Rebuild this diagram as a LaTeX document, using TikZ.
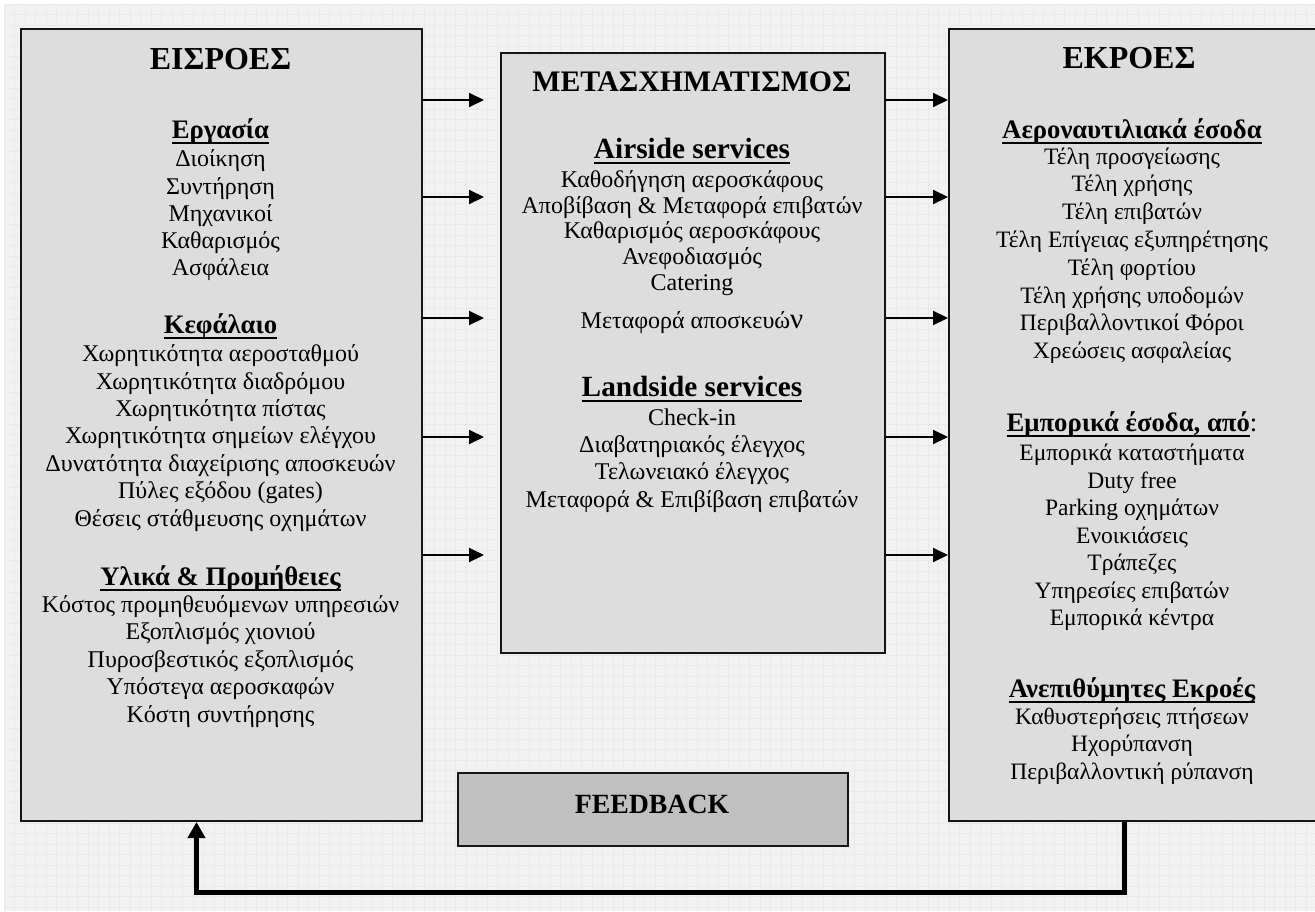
\documentclass[tikz,border=0pt]{standalone}
\usepackage{fontspec}
\setmainfont{Liberation Serif}
\usetikzlibrary{arrows.meta}

\definecolor{pagebg}{HTML}{F2F2F2}
\definecolor{gridln}{HTML}{E9E9E9}
\definecolor{boxfill}{HTML}{DDDDDD}
\definecolor{fbfill}{HTML}{C0C0C0}
\definecolor{edge}{HTML}{151515}

% text sizes (1pt = 1 picture unit)
\newcommand\titlefont{\fontsize{32}{36}\selectfont\bfseries}
\newcommand\midtitlefont{\fontsize{29.8}{33}\selectfont\bfseries}
\newcommand\headfont{\fontsize{26.7}{30}\selectfont\bfseries}
\newcommand\midheadfont{\fontsize{29.3}{33}\selectfont\bfseries}
\newcommand\bodyfont{\fontsize{24}{27}\selectfont}
\newcommand\outbodyfont{\fontsize{23.5}{27}\selectfont}
\newcommand\midbodyfont{\fontsize{24}{26}\selectfont}

% thick underline for the section headings
\newcommand\hul[1]{\setbox0=\hbox{#1}\leavevmode\rlap{\rule[-5.5pt]{\wd0}{2pt}}\box0}

% a centred column of lines: name, x, first baseline, step, font, lines
\newcommand\textcol[6]{%
  \foreach \txt [count=\k] in {#6} {%
    \node[lbl, font=#5] (#1\k) at (#2,{#3+(\k-1)*#4}) {\txt};}}

\tikzset{
  box/.style={draw=edge, line width=2pt, fill=boxfill, rectangle,
              anchor=north west, inner sep=0pt},
  lbl/.style={anchor=base, inner sep=0pt, align=center},
  conn/.style={draw=black, line width=2pt,
               -{Triangle[length=15pt,width=14pt]}},
  fbline/.style={draw=black, line width=5pt,
                 -{Triangle[length=16pt,width=17pt]}},
}

\begin{document}
\begin{tikzpicture}[x=1pt,y=-1pt]
\useasboundingbox (0,0) rectangle (1315,911);

% patterned page background
\fill[pagebg] (4,4) rectangle (1315,911);
\foreach \gx in {0,...,125} {\draw[gridln, line width=0.7pt] ({4+\gx*10.5},4) -- ({4+\gx*10.5},911);}
\foreach \gy in {0,...,86} {\draw[gridln, line width=0.7pt] (4,{4+\gy*10.5}) -- (1315,{4+\gy*10.5});}

% the three main blocks and the feedback block
\node[box, minimum width=401pt, minimum height=792pt] (in)  at (20,28)  {};
\node[box, minimum width=384pt, minimum height=600pt] (mid) at (500,52) {};
\node[box, minimum width=374pt, minimum height=792pt] (out) at (948,28) {};
\node[box, fill=fbfill, minimum width=390pt, minimum height=73pt] (fb) at (457,772) {};
\node[lbl, font=\fontsize{27.8}{30}\selectfont\bfseries] (fbtxt) at (652,813.3) {FEEDBACK};

% inputs
\node[lbl, font=\titlefont] (inT) at (220.5,69) {ΕΙΣΡΟΕΣ};
\node[lbl, font=\headfont] (inH1) at (220.5,138.5) {\hul{Εργασία}};
\textcol{inA}{220.5}{166.7}{27.3}{\bodyfont}{Διοίκηση,Συντήρηση,Μηχανικοί,Καθαρισμός,Ασφάλεια}
\node[lbl, font=\headfont] (inH2) at (220.5,333.8) {\hul{Κεφάλαιο}};
\textcol{inB}{220.5}{361.7}{27.4}{\bodyfont}{Χωρητικότητα αεροσταθμού,Χωρητικότητα διαδρόμου,Χωρητικότητα πίστας,Χωρητικότητα σημείων ελέγχου,Δυνατότητα διαχείρισης αποσκευών,Πύλες εξόδου (gates),Θέσεις στάθμευσης οχημάτων}
\node[lbl, font=\headfont] (inH3) at (220.5,585.5) {\hul{Υλικά \& Προμήθειες}};
\textcol{inC}{220.5}{612.5}{27.4}{\bodyfont}{Κόστος προμηθευόμενων υπηρεσιών,Εξοπλισμός χιονιού,Πυροσβεστικός εξοπλισμός,Υπόστεγα αεροσκαφών,Κόστη συντήρησης}

% transformation
\node[lbl, font=\midtitlefont] (midT) at (692,91.7) {ΜΕΤΑΣΧΗΜΑΤΙΣΜΟΣ};
\node[lbl, font=\midheadfont] (midH1) at (692,158.3) {\hul{Airside services}};
\textcol{midA}{692}{187.5}{25.7}{\midbodyfont}{Καθοδήγηση αεροσκάφους,Αποβίβαση \& Μεταφορά επιβατών,Καθαρισμός αεροσκάφους,Ανεφοδιασμός,Catering}
\node[lbl, font=\midbodyfont] (midA6) at (692,328) {Μεταφορά αποσκευώ{\fontsize{29}{30}\selectfont ν}};
\node[lbl, font=\midheadfont] (midH2) at (692,396.7) {\hul{Landside services}};
\textcol{midB}{692}{425.5}{27.2}{\midbodyfont}{Check-in,Διαβατηριακός έλεγχος,Τελωνειακό έλεγχος,Μεταφορά \& Επιβίβαση επιβατών}

% outputs
\node[lbl, font=\titlefont] (outT) at (1129,68.3) {ΕΚΡΟΕΣ};
\node[lbl, font=\headfont] (outH1) at (1132,138.5) {\hul{Αεροναυτιλιακά έσοδα}};
\textcol{outA}{1132}{164}{27.8}{\outbodyfont}{Τέλη προσγείωσης,Τέλη χρήσης,Τέλη επιβατών,Τέλη Επίγειας εξυπηρέτησης,Τέλη φορτίου,Τέλη χρήσης υποδομών,Περιβαλλοντικοί Φόροι,Χρεώσεις ασφαλείας}
\node[lbl, font=\headfont] (outH2) at (1132,431) {\hul{Εμπορικά έσοδα, από}{\mdseries :}};
\textcol{outB}{1132}{460.5}{27.5}{\outbodyfont}{Εμπορικά καταστήματα,Duty free,Parking οχημάτων,Ενοικιάσεις,Τράπεζες,Υπηρεσίες επιβατών,Εμπορικά κέντρα}
\node[lbl, font=\headfont] (outH3) at (1132,697.5) {\hul{Ανεπιθύμητες Εκροές}};
\textcol{outC}{1132}{724}{27.5}{\outbodyfont}{Καθυστερήσεις πτήσεων,Ηχορύπανση,Περιβαλλοντική ρύπανση}

% flow arrows between the blocks
\foreach \ay [count=\i] in {100,197,318,437,555} {
  \coordinate (inTip\i) at (484,\ay);
  \draw[conn] (in.east |- 0,\ay) -- (inTip\i);
  \draw[conn] (mid.east |- 0,\ay) -- (out.west |- 0,\ay);
}

% feedback loop from outputs back to inputs
\coordinate (fbR) at (1124,892.5);
\coordinate (fbL) at (196.5,892.5);
\draw[fbline] (out.south -| fbR) -- (fbR) -- (fbL) -- (in.south -| fbL);
\end{tikzpicture}
\end{document}
